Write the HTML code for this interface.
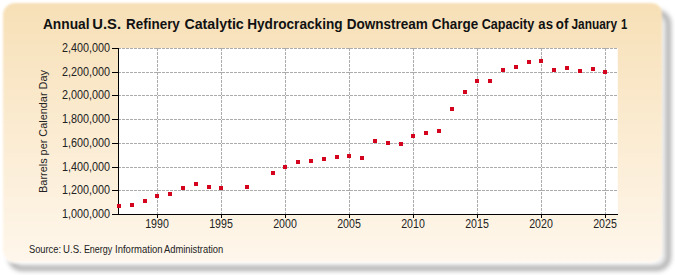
<!DOCTYPE html>
<html><head><meta charset="utf-8"><style>
html,body{margin:0;padding:0;background:#fff;width:675px;height:275px;overflow:hidden}
#sh{position:absolute;left:8px;top:10px;width:662.5px;height:261px;box-sizing:border-box;border-radius:14px;border:5px solid rgba(0,0,0,0.28);background:rgba(0,0,0,0.06);filter:blur(2px)}
#p{position:absolute;left:3.2px;top:3.2px;width:659.3px;height:258.5px;border-radius:12px 10px 11px 12px;background:linear-gradient(#f7e0b7,#fff7ec);box-shadow:0 1.5px 0 0 rgba(255,255,255,0.9)}
svg{position:absolute;left:0;top:0}
#bg{position:absolute;left:0;top:0;width:675px;height:275px;filter:blur(0.8px)}
text{font-family:"Liberation Sans",sans-serif}
</style></head><body><div id="bg"><div id="sh"></div><div id="p"></div></div>
<svg width="675" height="275" viewBox="0 0 675 275"><rect x="118.5" y="48" width="499.3" height="166" fill="#fff"/><path d="M118 214.5H618 M118 190.5H618 M118 167.5H618 M118 143.5H618 M118 119.5H618 M118 95.5H618 M118 72.5H618 M118 48.5H618 M157.5 48V214 M221.5 48V214 M285.5 48V214 M349.5 48V214 M413.5 48V214 M477.5 48V214 M541.5 48V214 M605.5 48V214" stroke="#acacac" stroke-width="1" stroke-dasharray="3 1" fill="none"/><path d="M118.5 48V214.5 M118 214.5H618 M112 214.5H118 M112 190.5H118 M112 167.5H118 M112 143.5H118 M112 119.5H118 M112 95.5H118 M112 72.5H118 M112 48.5H118 M157.5 214V218 M221.5 214V218 M285.5 214V218 M349.5 214V218 M413.5 214V218 M477.5 214V218 M541.5 214V218 M605.5 214V218" stroke="#000" stroke-width="1" fill="none"/><path d="M117 204h4v4h-4z M130 203h4v4h-4z M143 199h4v4h-4z M155 194h4v4h-4z M168 192h4v4h-4z M181 186h4v4h-4z M194 182h4v4h-4z M207 185h4v4h-4z M219 186h4v4h-4z M245 185h4v4h-4z M271 171h4v4h-4z M283 165h4v4h-4z M296 160h4v4h-4z M309 159h4v4h-4z M322 157h4v4h-4z M335 155h4v4h-4z M347 154h4v4h-4z M360 156h4v4h-4z M373 139h4v4h-4z M386 141h4v4h-4z M399 142h4v4h-4z M411 134h4v4h-4z M424 131h4v4h-4z M437 129h4v4h-4z M450 107h4v4h-4z M463 90h4v4h-4z M475 79h4v4h-4z M488 79h4v4h-4z M501 68h4v4h-4z M514 65h4v4h-4z M527 60h4v4h-4z M539 59h4v4h-4z M552 68h4v4h-4z M565 66h4v4h-4z M578 69h4v4h-4z M591 67h4v4h-4z M603 70h4v4h-4z" fill="#d4041e"/><g fill="#222"><text transform="translate(157.0 228) scale(0.818 1)" text-anchor="middle" font-size="13">1990</text><text transform="translate(221.0 228) scale(0.818 1)" text-anchor="middle" font-size="13">1995</text><text transform="translate(285.0 228) scale(0.818 1)" text-anchor="middle" font-size="13">2000</text><text transform="translate(349.0 228) scale(0.818 1)" text-anchor="middle" font-size="13">2005</text><text transform="translate(413.0 228) scale(0.818 1)" text-anchor="middle" font-size="13">2010</text><text transform="translate(477.0 228) scale(0.818 1)" text-anchor="middle" font-size="13">2015</text><text transform="translate(541.0 228) scale(0.818 1)" text-anchor="middle" font-size="13">2020</text><text transform="translate(605.0 228) scale(0.818 1)" text-anchor="middle" font-size="13">2025</text><text transform="translate(110 218.4) scale(0.865 1)" text-anchor="end" font-size="12.5">1,000,000</text><text transform="translate(110 194.4) scale(0.865 1)" text-anchor="end" font-size="12.5">1,200,000</text><text transform="translate(110 171.4) scale(0.865 1)" text-anchor="end" font-size="12.5">1,400,000</text><text transform="translate(110 147.4) scale(0.865 1)" text-anchor="end" font-size="12.5">1,600,000</text><text transform="translate(110 123.4) scale(0.865 1)" text-anchor="end" font-size="12.5">1,800,000</text><text transform="translate(110 99.4) scale(0.865 1)" text-anchor="end" font-size="12.5">2,000,000</text><text transform="translate(110 76.4) scale(0.865 1)" text-anchor="end" font-size="12.5">2,200,000</text><text transform="translate(110 52.4) scale(0.865 1)" text-anchor="end" font-size="12.5">2,400,000</text></g><text transform="translate(42.92 28.8) scale(0.9497 1)" font-size="14.5" font-weight="bold" fill="#111">Annual</text><text transform="translate(92.28 28.8) scale(1.0190 1)" font-size="14.5" font-weight="bold" fill="#111">U.S.</text><text transform="translate(126.07 28.8) scale(0.9279 1)" font-size="14.5" font-weight="bold" fill="#111">Refinery</text><text transform="translate(184.41 28.8) scale(0.9832 1)" font-size="14.5" font-weight="bold" fill="#111">Catalytic</text><text transform="translate(247.16 28.8) scale(0.9408 1)" font-size="14.5" font-weight="bold" fill="#111">Hydrocracking</text><text transform="translate(346.67 28.8) scale(0.9342 1)" font-size="14.5" font-weight="bold" fill="#111">Downstream</text><text transform="translate(431.84 28.8) scale(0.9284 1)" font-size="14.5" font-weight="bold" fill="#111">Charge</text><text transform="translate(481.68 28.8) scale(0.8710 1)" font-size="14.5" font-weight="bold" fill="#111">Capacity</text><text transform="translate(538.34 28.8) scale(0.9073 1)" font-size="14.5" font-weight="bold" fill="#111">as</text><text transform="translate(555.85 28.8) scale(0.9160 1)" font-size="14.5" font-weight="bold" fill="#111">of</text><text transform="translate(571.44 28.8) scale(0.8192 1)" font-size="14.5" font-weight="bold" fill="#111">January</text><text transform="translate(621.10 28.8) scale(0.7794 1)" font-size="14.5" font-weight="bold" fill="#111">1</text><text transform="translate(28.93 253.2) scale(0.9333 1)" font-size="10" font-weight="normal" fill="#222">Source:</text><text transform="translate(63.03 253.2) scale(0.9605 1)" font-size="10" font-weight="normal" fill="#222">U.S.</text><text transform="translate(83.88 253.2) scale(0.8994 1)" font-size="10" font-weight="normal" fill="#222">Energy</text><text transform="translate(115.04 253.2) scale(0.9505 1)" font-size="10" font-weight="normal" fill="#222">Information</text><text transform="translate(164.00 253.2) scale(0.9362 1)" font-size="10" font-weight="normal" fill="#222">Administration</text><text transform="translate(47.4 131.5) rotate(-90) scale(0.99 1)" text-anchor="middle" font-size="11" fill="#222">Barrels per Calendar Day</text></svg>
</body></html>
